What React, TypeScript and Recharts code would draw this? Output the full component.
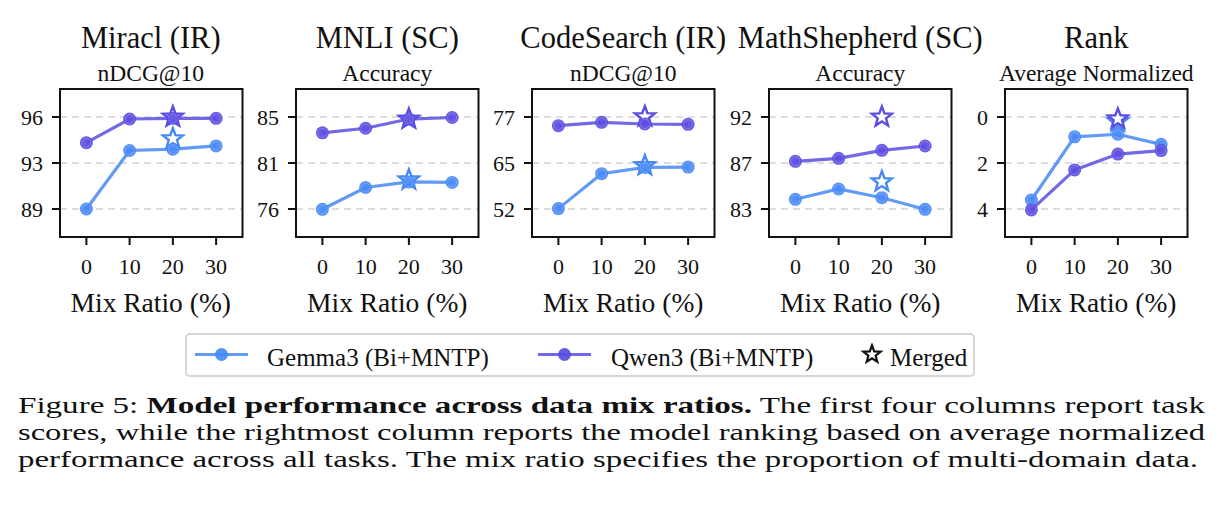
import React from "react";
import { ComposedChart, Line, XAxis, YAxis, CartesianGrid, ReferenceArea } from "recharts";

const mixRatios = [0, 10, 20, 30];

// Miracl (IR) - nDCG@10
const miraclTicks = [89, 92.5, 96];
const miraclGemma = [89.0, 93.45, 93.55, 93.8];
const miraclQwen = [94.05, 95.85, 95.9, 95.9];
const miraclGemmaMerged = [null, null, 94.35, null];
const miraclQwenMerged = [null, null, 96.0, null];

// MNLI (SC) - accuracy
const mnliTicks = [76, 80.5, 85];
const mnliGemma = [75.97, 78.1, 78.65, 78.6];
const mnliQwen = [83.45, 83.9, 84.8, 84.95];
const mnliGemmaMerged = [null, null, 78.85, null];
const mnliQwenMerged = [null, null, 84.8, null];

// CodeSearch (IR) - nDCG@10
const codeTicks = [52, 64.5, 77];
const codeGemma = [52.1, 61.6, 63.3, 63.4];
const codeQwen = [74.65, 75.55, 75.1, 75.0];
const codeGemmaMerged = [null, null, 63.8, null];
const codeQwenMerged = [null, null, 77.1, null];

// MathShepherd (SC) - accuracy
const mathTicks = [82.8, 87.4, 92];
const mathGemma = [83.77, 84.8, 83.93, 82.77];
const mathQwen = [87.57, 87.87, 88.67, 89.1];
const mathGemmaMerged = [null, null, 85.53, null];
const mathQwenMerged = [null, null, 92.0, null];

// Rank over average normalized score (lower is better)
const rankTicks = [0, 2, 4];
const rankGemma = [3.61, 0.86, 0.75, 1.19];
const rankQwen = [4.04, 2.3, 1.61, 1.46];
const rankGemmaMerged = [null, null, 0.2, null];
const rankQwenMerged = [null, null, 0.08, null];

const BLUE = "#4689f5";
const PURPLE = "#5b4de1";
const INK = "#111";
const FONT = "Liberation Serif, serif";

type Panel = {
  title: string;
  metric: string;
  ticks: number[];
  gemma: (number | null)[];
  qwen: (number | null)[];
  gemmaMerged: (number | null)[];
  qwenMerged: (number | null)[];
  reversed?: boolean;
};

const panels: Panel[] = [
  { title: "Miracl (IR)", metric: "nDCG@10", ticks: miraclTicks, gemma: miraclGemma, qwen: miraclQwen, gemmaMerged: miraclGemmaMerged, qwenMerged: miraclQwenMerged },
  { title: "MNLI (SC)", metric: "Accuracy", ticks: mnliTicks, gemma: mnliGemma, qwen: mnliQwen, gemmaMerged: mnliGemmaMerged, qwenMerged: mnliQwenMerged },
  { title: "CodeSearch (IR)", metric: "nDCG@10", ticks: codeTicks, gemma: codeGemma, qwen: codeQwen, gemmaMerged: codeGemmaMerged, qwenMerged: codeQwenMerged },
  { title: "MathShepherd (SC)", metric: "Accuracy", ticks: mathTicks, gemma: mathGemma, qwen: mathQwen, gemmaMerged: mathGemmaMerged, qwenMerged: mathQwenMerged },
  { title: "Rank", metric: "Average Normalized", ticks: rankTicks, gemma: rankGemma, qwen: rankQwen, gemmaMerged: rankGemmaMerged, qwenMerged: rankQwenMerged, reversed: true },
];

// panel geometry (frame left edges, plot box size)
const FRAME_LEFT = [59.5, 296, 532, 769, 1005];
const PLOT_W = 182.5;
const PLOT_TOP = 89;
const PLOT_H = 148;
const Y_AXIS_W = 56;
const X_DOMAIN: [number, number] = [-6.1, 36.1];

function starPoints(cx: number, cy: number, R: number, r: number) {
  const pts: string[] = [];
  for (let i = 0; i < 10; i++) {
    const a = -Math.PI / 2 + (i * Math.PI) / 5;
    const rad = i % 2 === 0 ? R : r;
    pts.push(`${(cx + rad * Math.cos(a)).toFixed(2)},${(cy + rad * Math.sin(a)).toFixed(2)}`);
  }
  return pts.join(" ");
}

// filled marker with a faint lighter ring, like a translucent marker over its edge
const circleDot = (color: string) => (p: any) => {
  if (p.value == null || p.cy == null) return <g key={"c" + p.index} />;
  return (
    <g key={"c" + p.index}>
      <circle cx={p.cx} cy={p.cy} r={6.5} fill={color} fillOpacity={0.92} />
      <circle cx={p.cx} cy={p.cy} r={4.6} fill="none" stroke="#fff" strokeOpacity={0.18} strokeWidth={1} />
    </g>
  );
};

const starDot = (color: string) => (p: any) => {
  if (p.value == null || p.cy == null) return <g key={"s" + p.index} />;
  return (
    <polygon key={"s" + p.index} points={starPoints(p.cx, p.cy, 10.5, 4.4)} fill="#fff" stroke={color} strokeWidth={2.4} strokeLinejoin="miter" />
  );
};

const tickStyle = { fontSize: 22, fill: INK, style: { fontFamily: FONT } };

function MixPanel({ panel }: { panel: Panel }) {
  const data = mixRatios.map((ratio, i) => ({
    ratio,
    gemma: panel.gemma[i],
    qwen: panel.qwen[i],
    gemmaMerged: panel.gemmaMerged[i],
    qwenMerged: panel.qwenMerged[i],
  }));
  const step = panel.ticks[1] - panel.ticks[0];
  const yDomain: [number, number] = [
    panel.ticks[0] - 0.609 * step,
    panel.ticks[panel.ticks.length - 1] + 0.609 * step,
  ];

  return (
    <ComposedChart
      width={Y_AXIS_W + PLOT_W + 6}
      height={PLOT_TOP + PLOT_H + 43}
      data={data}
      margin={{ top: PLOT_TOP, right: 6, bottom: 3, left: 0 }}
      style={{ fontFamily: FONT }}
    >
      <CartesianGrid vertical={false} stroke="#dedede" strokeWidth={2} strokeDasharray="7 5" />
      <XAxis
        type="number"
        dataKey="ratio"
        domain={X_DOMAIN}
        ticks={mixRatios}
        interval={0}
        allowDataOverflow
        height={40}
        axisLine={false}
        tickSize={8}
        tickMargin={13}
        tickLine={{ stroke: INK, strokeWidth: 2 }}
        tick={tickStyle}
      />
      <YAxis
        type="number"
        domain={yDomain}
        ticks={panel.ticks}
        interval={0}
        allowDataOverflow
        reversed={panel.reversed}
        width={Y_AXIS_W}
        axisLine={false}
        tickSize={8}
        tickMargin={9}
        tickLine={{ stroke: INK, strokeWidth: 2 }}
        tick={tickStyle}
        tickFormatter={(v: number) => String(Math.round(v))}
      />
      <Line dataKey="gemmaMerged" stroke="none" dot={starDot(BLUE)} activeDot={false} isAnimationActive={false} />
      <Line dataKey="qwenMerged" stroke="none" dot={starDot(PURPLE)} activeDot={false} isAnimationActive={false} />
      <Line type="linear" dataKey="gemma" stroke={BLUE} strokeOpacity={0.85} strokeWidth={3.2} dot={circleDot(BLUE)} activeDot={false} isAnimationActive={false} />
      <Line type="linear" dataKey="qwen" stroke={PURPLE} strokeOpacity={0.85} strokeWidth={3.2} dot={circleDot(PURPLE)} activeDot={false} isAnimationActive={false} />
      <ReferenceArea
        x1={X_DOMAIN[0]}
        x2={X_DOMAIN[1]}
        y1={yDomain[0]}
        y2={yDomain[1]}
        fill="none"
        stroke={INK}
        strokeWidth={2}
        ifOverflow="visible"
      />
    </ComposedChart>
  );
}

export default function App() {
  return (
    <div style={{ position: "absolute", left: 0, top: 0, width: 1220, height: 524, background: "#fff", fontFamily: FONT, overflow: "hidden" }}>
      <svg width={1220} height={524} style={{ position: "absolute", left: 0, top: 0, fontFamily: FONT }} fill={INK}>
        {panels.map((p, i) => {
          const cx = FRAME_LEFT[i] + PLOT_W / 2;
          return (
            <g key={p.title}>
              <text x={cx} y={48} textAnchor="middle" fontSize={30.5}>{p.title}</text>
              <text x={cx} y={81} textAnchor="middle" fontSize={23.5}>{p.metric}</text>
              <text x={cx} y={311.5} textAnchor="middle" fontSize={27.5}>Mix Ratio (%)</text>
            </g>
          );
        })}

        {/* shared legend */}
        <rect x={186} y={334} width={788} height={42} rx={4} fill="#fff" stroke="#d6d6d6" strokeWidth={2} />
        <line x1={195} x2={248} y1={354.5} y2={354.5} stroke={BLUE} strokeOpacity={0.85} strokeWidth={3.2} />
        <circle cx={221.5} cy={354.5} r={6.5} fill={BLUE} fillOpacity={0.92} />
        <text x={267} y={366} fontSize={25}>Gemma3 (Bi+MNTP)</text>
        <line x1={538} x2={591} y1={354.5} y2={354.5} stroke={PURPLE} strokeOpacity={0.85} strokeWidth={3.2} />
        <circle cx={564.5} cy={354.5} r={6.5} fill={PURPLE} fillOpacity={0.92} />
        <text x={611} y={366} fontSize={25}>Qwen3 (Bi+MNTP)</text>
        <polygon points={starPoints(872, 354.5, 9, 3.8)} fill="#fff" stroke={INK} strokeWidth={2.2} />
        <text x={890} y={366} fontSize={25}>Merged</text>

        {/* caption */}
        <text x={18} y={413} fontSize={24} textLength={1187} lengthAdjust="spacingAndGlyphs">
          Figure 5: <tspan fontWeight={700}>Model performance across data mix ratios.</tspan> The first four columns report task
        </text>
        <text x={18} y={440} fontSize={24} textLength={1187} lengthAdjust="spacingAndGlyphs">
          scores, while the rightmost column reports the model ranking based on average normalized
        </text>
        <text x={18} y={467} fontSize={24} textLength={1180} lengthAdjust="spacingAndGlyphs">
          performance across all tasks. The mix ratio specifies the proportion of multi-domain data.
        </text>
      </svg>

      {panels.map((p, i) => (
        <div key={p.title} style={{ position: "absolute", left: FRAME_LEFT[i] - Y_AXIS_W, top: 0 }}>
          <MixPanel panel={p} />
        </div>
      ))}
    </div>
  );
}
